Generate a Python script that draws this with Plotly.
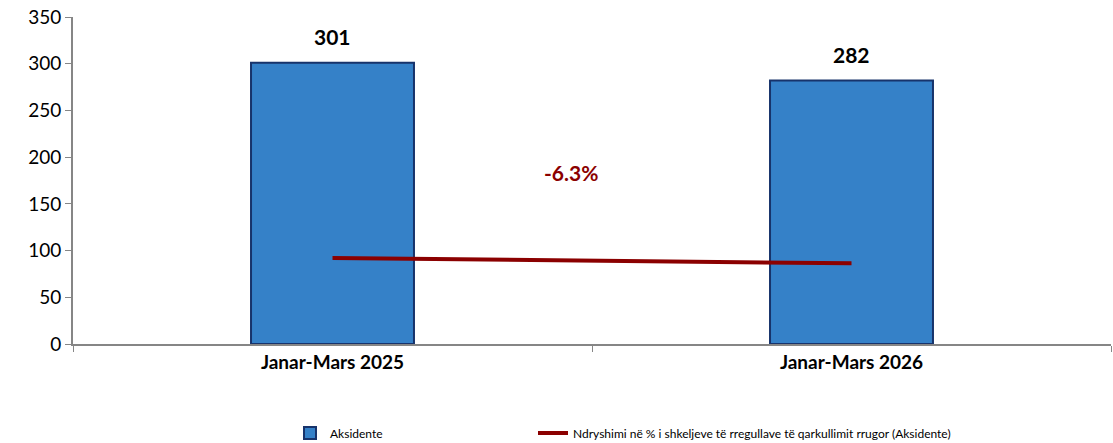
import plotly.graph_objects as go

categories = ["Janar-Mars 2025", "Janar-Mars 2026"]
accidents = [301, 282]
change_line = [92.1, 86.3]
bar_name = "Aksidente"
line_name = "Ndryshimi në % i shkeljeve të rregullave të qarkullimit rrugor (Aksidente)"

pct_change = (accidents[1] - accidents[0]) / accidents[0] * 100

FONT = "Lato"

fig = go.Figure()
fig.add_trace(go.Bar(
    x=categories, y=accidents, name=bar_name,
    marker=dict(color="#3581C8", line=dict(color="#17336B", width=2)),
    width=0.314, legend="legend",
))
fig.add_trace(go.Scatter(
    x=categories, y=change_line, name=line_name, mode="lines",
    line=dict(color="#8B0000", width=4), legend="legend2",
))

for c, v in zip(categories, accidents):
    fig.add_annotation(x=c, y=v, text=f"<b>{v}</b>", showarrow=False,
                       yshift=26, font=dict(family=FONT, size=21, color="#000000"))

fig.add_annotation(x=0.46, y=184, text=f"<b>{pct_change:.1f}%</b>", showarrow=False,
                   font=dict(family=FONT, size=21, color="#8B0000"))

leg_common = dict(orientation="h", xanchor="left", y=-0.272, yanchor="middle",
                  font=dict(family=FONT, size=12, color="#000000"),
                  bgcolor="rgba(0,0,0,0)")
fig.update_layout(
    width=1113, height=443,
    margin=dict(l=73, r=2, t=17, b=99, autoexpand=False),
    paper_bgcolor="white", plot_bgcolor="white",
    font=dict(family=FONT, color="#000000"),
    showlegend=True,
    legend=dict(x=217 / 1038, **leg_common),
    legend2=dict(x=460 / 1038, **leg_common),
    bargap=0.686,
)
fig.update_xaxes(type="category", showline=True, linecolor="#868686", linewidth=2,
                 ticks="outside", tickson="boundaries", ticklen=6, tickcolor="#868686",
                 tickfont=dict(family=FONT, size=19, color="#000000"),
                 tickprefix="<b>", ticksuffix="</b>", showgrid=False,
                 range=[-0.5, 1.5], automargin=False, ticklabeloverflow="allow")
fig.update_yaxes(range=[0, 350], dtick=50, showline=True, linecolor="#868686", linewidth=2,
                 ticks="outside", ticklen=6, tickcolor="#868686", showgrid=False,
                 tickfont=dict(family=FONT, size=19, color="#000000"), zeroline=False,
                 automargin=False, ticklabeloverflow="allow")

fig.write_html("out.html", config={"displayModeBar": False},
               post_script="document.body.style.margin='0';document.body.style.overflow='hidden';")
